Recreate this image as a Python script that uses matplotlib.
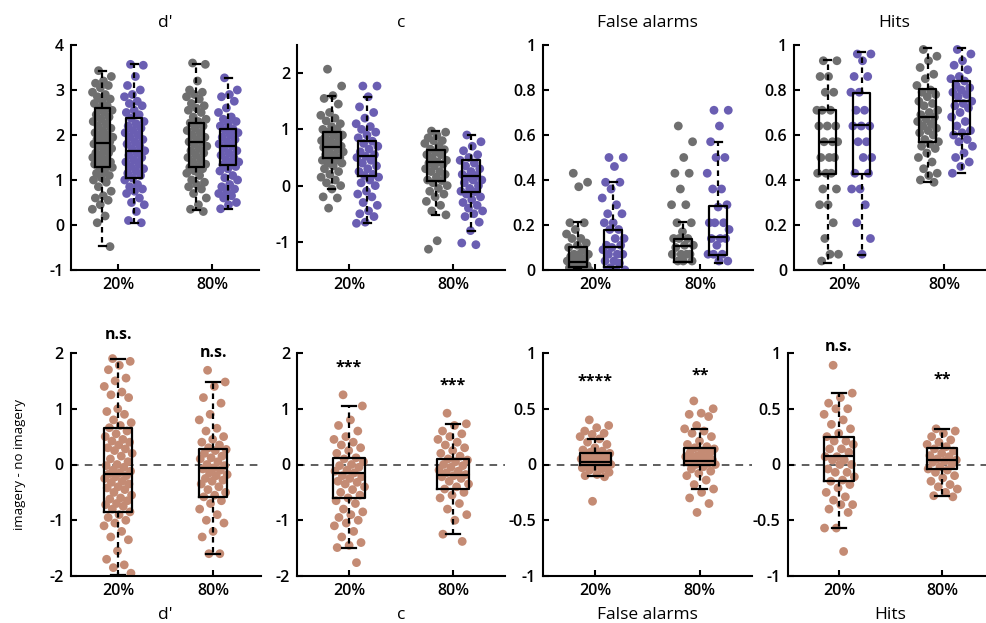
import matplotlib
matplotlib.use('Agg')
import matplotlib.pyplot as plt
from matplotlib.ticker import FuncFormatter

plt.rcParams['font.family'] = ['Open Sans', 'DejaVu Sans']
plt.rcParams['axes.unicode_minus'] = False

# ---- data ----
conditions = ['20%', '80%']
measures = ["d'", 'c', 'False alarms', 'Hits']

# top row: no imagery (grey) and imagery (purple), at 20% and 80%
dp_no_20 = [3.43, 3.3, 3.2, 3.15, 3.1, 3.05, 2.95, 2.9, 2.85, 2.8, 2.75, 2.7, 2.65, 2.6, 2.55,
            2.5, 2.45, 2.4, 2.35, 2.3, 2.25, 2.2, 2.15, 2.1, 2.05, 2.0, 2.0, 1.95, 1.9, 1.9,
            1.85, 1.82, 1.8, 1.75, 1.75, 1.7, 1.65, 1.6, 1.6, 1.55, 1.5, 1.45, 1.45, 1.4, 1.4,
            1.35, 1.3, 1.3, 1.28, 1.2, 1.15, 1.1, 1.05, 1.0, 0.95, 0.85, 0.75, 0.65, 0.6, 0.55,
            0.45, 0.35, 0.2, 0.05, -0.48]
dp_im_20 = [3.57, 3.55, 3.3, 3.1, 3.0, 2.9, 2.85, 2.75, 2.7, 2.65, 2.55, 2.5, 2.45, 2.37, 2.3,
            2.25, 2.2, 2.15, 2.1, 2.05, 2.0, 1.95, 1.9, 1.85, 1.8, 1.75, 1.7, 1.65, 1.6, 1.55,
            1.5, 1.45, 1.4, 1.35, 1.3, 1.25, 1.2, 1.15, 1.1, 1.04, 1.0, 0.9, 0.85, 0.8, 0.75,
            0.7, 0.6, 0.5, 0.45, 0.3, 0.1, 0.05]
dp_no_80 = [3.6, 3.57, 3.2, 3.0, 2.95, 2.9, 2.85, 2.8, 2.7, 2.65, 2.6, 2.55, 2.5, 2.4, 2.35, 2.3,
            2.27, 2.2, 2.15, 2.1, 2.05, 2.0, 1.95, 1.9, 1.85, 1.85, 1.8, 1.75, 1.7, 1.65, 1.6,
            1.55, 1.5, 1.45, 1.4, 1.35, 1.3, 1.28, 1.25, 1.2, 1.15, 1.1, 1.0, 0.95, 0.9, 0.85,
            0.8, 0.7, 0.6, 0.45, 0.35, 0.3]
dp_im_80 = [3.27, 3.0, 2.9, 2.85, 2.75, 2.6, 2.5, 2.4, 2.35, 2.3, 2.25, 2.2, 2.13, 2.1, 2.05,
            2.0, 1.95, 1.9, 1.85, 1.8, 1.76, 1.7, 1.65, 1.6, 1.55, 1.5, 1.45, 1.4, 1.38, 1.34,
            1.3, 1.25, 1.2, 1.1, 1.05, 1.0, 0.9, 0.85, 0.8, 0.75, 0.7, 0.65, 0.6, 0.5, 0.45,
            0.36]

c_no_20 = [2.07, 1.77, 1.6, 1.55, 1.45, 1.3, 1.25, 1.2, 1.15, 1.1, 1.05, 1.0, 1.0, 0.95, 0.9,
           0.9, 0.85, 0.85, 0.8, 0.8, 0.75, 0.75, 0.7, 0.7, 0.68, 0.65, 0.6, 0.6, 0.55, 0.55,
           0.5, 0.49, 0.45, 0.45, 0.4, 0.4, 0.35, 0.3, 0.25, 0.2, 0.15, 0.1, 0.05, 0.0, -0.06,
           -0.2, -0.22, -0.4]
c_im_20 = [1.77, 1.77, 1.58, 1.4, 1.3, 1.2, 1.1, 1.05, 1.0, 0.95, 0.9, 0.85, 0.79, 0.75, 0.7,
           0.65, 0.6, 0.55, 0.52, 0.5, 0.45, 0.4, 0.35, 0.3, 0.25, 0.2, 0.18, 0.15, 0.1, 0.05,
           0.0, -0.1, -0.15, -0.2, -0.3, -0.35, -0.45, -0.5, -0.55, -0.65, -0.67]
c_no_80 = [0.97, 0.95, 0.9, 0.85, 0.8, 0.8, 0.75, 0.7, 0.65, 0.64, 0.6, 0.55, 0.55, 0.5, 0.45,
           0.42, 0.4, 0.38, 0.35, 0.3, 0.25, 0.25, 0.2, 0.15, 0.1, 0.09, 0.05, 0.0, -0.05, -0.1,
           -0.15, -0.2, -0.28, -0.35, -0.45, -0.52, -0.98, -1.13]
c_im_80 = [0.9, 0.78, 0.7, 0.62, 0.55, 0.5, 0.45, 0.4, 0.35, 0.3, 0.25, 0.2, 0.18, 0.15, 0.1,
           0.1, 0.05, 0.0, -0.05, -0.1, -0.11, -0.15, -0.2, -0.25, -0.3, -0.35, -0.4, -0.45,
           -0.5, -0.55, -0.65, -0.8, -1.02, -1.05]

fa_no_20 = [0.43, 0.39, 0.37, 0.21, 0.21, 0.18, 0.16, 0.14, 0.14, 0.12, 0.11, 0.1, 0.09, 0.07,
            0.07, 0.07, 0.06, 0.05, 0.04, 0.04, 0.04, 0.03, 0.02, 0.02, 0.01, 0.01, 0.0, 0.0,
            0.0, 0.0]
fa_im_20 = [0.5, 0.5, 0.46, 0.39, 0.39, 0.36, 0.32, 0.29, 0.25, 0.25, 0.21, 0.21, 0.18, 0.18,
            0.14, 0.14, 0.11, 0.11, 0.1, 0.09, 0.07, 0.07, 0.07, 0.04, 0.04, 0.03, 0.01, 0.0,
            0.0, 0.0]
fa_no_80 = [0.64, 0.57, 0.5, 0.43, 0.43, 0.36, 0.29, 0.29, 0.21, 0.21, 0.17, 0.14, 0.14, 0.14,
            0.11, 0.11, 0.1, 0.07, 0.07, 0.07, 0.07, 0.04, 0.04, 0.04]
fa_im_80 = [0.71, 0.71, 0.64, 0.57, 0.5, 0.5, 0.43, 0.36, 0.36, 0.29, 0.28, 0.21, 0.21, 0.21,
            0.18, 0.14, 0.14, 0.14, 0.11, 0.07, 0.07, 0.07, 0.04, 0.04]

hit_no_20 = [0.93, 0.93, 0.86, 0.86, 0.79, 0.79, 0.71, 0.71, 0.71, 0.64, 0.64, 0.64, 0.57, 0.57,
             0.57, 0.5, 0.5, 0.5, 0.43, 0.43, 0.43, 0.36, 0.36, 0.29, 0.29, 0.21, 0.14, 0.07,
             0.07, 0.04]
hit_im_20 = [0.96, 0.96, 0.93, 0.86, 0.86, 0.79, 0.79, 0.71, 0.71, 0.64, 0.64, 0.64, 0.57, 0.57,
             0.5, 0.5, 0.43, 0.43, 0.36, 0.36, 0.29, 0.21, 0.14, 0.07]
hit_no_80 = [0.98, 0.95, 0.93, 0.9, 0.87, 0.85, 0.82, 0.8, 0.79, 0.78, 0.77, 0.75, 0.74, 0.73,
             0.71, 0.7, 0.69, 0.68, 0.67, 0.66, 0.65, 0.64, 0.63, 0.62, 0.61, 0.6, 0.58, 0.57,
             0.56, 0.55, 0.54, 0.52, 0.5, 0.48, 0.45, 0.43, 0.42, 0.4, 0.39]
hit_im_80 = [0.98, 0.96, 0.93, 0.91, 0.89, 0.86, 0.85, 0.84, 0.82, 0.81, 0.8, 0.79, 0.78, 0.77,
             0.75, 0.74, 0.73, 0.72, 0.7, 0.68, 0.66, 0.64, 0.62, 0.61, 0.6, 0.58, 0.57, 0.55,
             0.52, 0.5, 0.48, 0.46, 0.43]

# box stats [whisker low, q1, median, q3, whisker high]
dp_box_no = [[-0.47, 1.28, 1.82, 2.59, 3.43], [0.33, 1.28, 1.85, 2.27, 3.57]]
dp_box_im = [[0.05, 1.04, 1.65, 2.37, 3.57], [0.36, 1.34, 1.76, 2.13, 3.27]]
c_box_no = [[-0.06, 0.49, 0.68, 0.95, 1.59], [-0.52, 0.09, 0.42, 0.64, 0.97]]
c_box_im = [[-0.67, 0.18, 0.52, 0.79, 1.58], [-0.80, -0.11, 0.18, 0.45, 0.90]]
fa_box_no = [[0.003, 0.015, 0.037, 0.104, 0.213], [0.036, 0.036, 0.107, 0.139, 0.214]]
fa_box_im = [[0.0, 0.015, 0.104, 0.179, 0.39], [0.033, 0.067, 0.146, 0.284, 0.57]]
hit_box_no = [[0.03, 0.427, 0.57, 0.713, 0.933], [0.39, 0.57, 0.679, 0.806, 0.985]]
hit_box_im = [[0.067, 0.427, 0.645, 0.785, 0.97], [0.43, 0.604, 0.75, 0.84, 0.985]]

# bottom row: imagery - no imagery
diff_dp_20 = [1.9, 1.85, 1.78, 1.7, 1.55, 1.5, 1.4, 1.3, 1.25, 1.2, 1.0, 0.95, 0.9, 0.8, 0.75,
              0.7, 0.66, 0.6, 0.55, 0.5, 0.45, 0.42, 0.4, 0.35, 0.3, 0.28, 0.25, 0.2, 0.15, 0.1,
              0.05, 0.0, -0.02, -0.05, -0.1, -0.12, -0.15, -0.17, -0.2, -0.22, -0.25, -0.3,
              -0.32, -0.35, -0.4, -0.42, -0.45, -0.5, -0.55, -0.6, -0.62, -0.65, -0.7, -0.72,
              -0.75, -0.8, -0.85, -0.9, -0.95, -1.0, -1.05, -1.1, -1.2, -1.3, -1.35, -1.55,
              -1.7, -1.8, -1.85, -1.95]
diff_dp_80 = [1.69, 1.48, 1.4, 1.2, 1.1, 0.9, 0.8, 0.65, 0.6, 0.5, 0.45, 0.4, 0.35, 0.3, 0.27,
              0.25, 0.2, 0.15, 0.12, 0.1, 0.05, 0.0, -0.02, -0.06, -0.08, -0.1, -0.15, -0.18,
              -0.2, -0.25, -0.28, -0.3, -0.35, -0.4, -0.45, -0.5, -0.55, -0.58, -0.65, -0.7,
              -0.8, -0.9, -1.0, -1.05, -1.2, -1.3, -1.6, -1.6]
diff_c_20 = [1.25, 1.05, 0.8, 0.7, 0.6, 0.5, 0.45, 0.4, 0.35, 0.3, 0.25, 0.2, 0.12, 0.1, 0.05,
             0.0, -0.02, -0.05, -0.1, -0.12, -0.15, -0.2, -0.22, -0.25, -0.3, -0.32, -0.35,
             -0.4, -0.45, -0.5, -0.55, -0.6, -0.65, -0.7, -0.8, -0.85, -0.9, -0.95, -1.0, -1.05,
             -1.1, -1.2, -1.3, -1.4, -1.45, -1.49, -1.76]
diff_c_80 = [0.92, 0.73, 0.7, 0.6, 0.55, 0.5, 0.45, 0.4, 0.35, 0.3, 0.25, 0.2, 0.15, 0.1, 0.08,
             0.05, 0.0, -0.02, -0.05, -0.1, -0.12, -0.15, -0.18, -0.2, -0.22, -0.25, -0.3,
             -0.35, -0.4, -0.44, -0.5, -0.55, -0.6, -0.7, -0.8, -0.9, -1.0, -1.25, -1.38]
diff_fa_20 = [0.4, 0.35, 0.33, 0.3, 0.28, 0.27, 0.25, 0.23, 0.2, 0.18, 0.15, 0.13, 0.12, 0.11,
              0.1, 0.09, 0.08, 0.07, 0.06, 0.05, 0.04, 0.04, 0.03, 0.02, 0.02, 0.01, 0.01, 0.0,
              0.0, 0.0, -0.01, -0.02, -0.03, -0.04, -0.05, -0.07, -0.09, -0.1, -0.11, -0.33]
diff_fa_80 = [0.57, 0.5, 0.46, 0.45, 0.43, 0.35, 0.32, 0.3, 0.28, 0.25, 0.21, 0.18, 0.16, 0.15,
              0.14, 0.12, 0.11, 0.1, 0.08, 0.07, 0.06, 0.05, 0.04, 0.03, 0.02, 0.01, 0.0, 0.0,
              -0.02, -0.04, -0.06, -0.08, -0.1, -0.14, -0.18, -0.22, -0.25, -0.3, -0.35, -0.43]
diff_hit_20 = [0.89, 0.64, 0.6, 0.55, 0.5, 0.5, 0.45, 0.4, 0.36, 0.32, 0.28, 0.25, 0.21, 0.21,
               0.18, 0.14, 0.14, 0.11, 0.07, 0.07, 0.04, 0.04, 0.0, 0.0, -0.04, -0.07, -0.07,
               -0.11, -0.14, -0.15, -0.18, -0.21, -0.25, -0.29, -0.32, -0.36, -0.36, -0.4,
               -0.43, -0.57, -0.57, -0.78]
diff_hit_80 = [0.32, 0.3, 0.28, 0.25, 0.22, 0.2, 0.18, 0.16, 0.14, 0.12, 0.1, 0.08, 0.07, 0.05,
               0.04, 0.03, 0.02, 0.0, -0.02, -0.04, -0.05, -0.07, -0.1, -0.12, -0.15, -0.18,
               -0.2, -0.22, -0.25, -0.28, -0.29]

diff_box_dp = [[-1.98, -0.85, -0.17, 0.66, 1.9], [-1.6, -0.58, -0.06, 0.27, 1.48]]
diff_box_c = [[-1.49, -0.60, -0.15, 0.12, 1.05], [-1.25, -0.44, -0.18, 0.10, 0.73]]
diff_box_fa = [[-0.105, -0.006, 0.02, 0.105, 0.23], [-0.216, 0.0, 0.03, 0.144, 0.32]]
diff_box_hit = [[-0.57, -0.147, 0.075, 0.25, 0.64], [-0.285, -0.04, 0.036, 0.144, 0.32]]

# significance labels and their heights
sig_labels = [['n.s.', 'n.s.'], ['***', '***'], ['****', '**'], ['n.s.', '**']]
sig_heights = [[2.32, 2.0], [1.73, 1.42], [0.74, 0.8], [1.05, 0.76]]

GREY = '#6f6f6f'
PURPLE = '#6a5eb2'
TAN = '#c48b74'
FIG_W, FIG_H = 986, 623


def add_axes_px(fig, left, top, width, height):
    return fig.add_axes([left / FIG_W, 1 - (top + height) / FIG_H, width / FIG_W, height / FIG_H])


def jitter(n, spread):
    # deterministic spread of points across the strip
    return [((i * 0.618034 + 0.31) % 1.0 - 0.5) * 2 * spread for i in range(n)]


def draw_group(ax, pos, values, box, color, width, spread, capw):
    xs = [pos + j for j in jitter(len(values), spread)]
    ax.scatter(xs, values, s=40, color=color, edgecolors='none', zorder=1)
    stats = [{'whislo': box[0], 'q1': box[1], 'med': box[2], 'q3': box[3], 'whishi': box[4]}]
    ax.bxp(stats, positions=[pos], widths=width, showfliers=False, manage_ticks=False,
           capwidths=capw,
           boxprops=dict(color='k', lw=1.6),
           medianprops=dict(color='k', lw=1.6),
           whiskerprops=dict(color='k', lw=1.6, linestyle=(0, (2.5, 2))),
           capprops=dict(color='k', lw=1.6), zorder=3)


def style_axes(ax, ylim, yticks):
    ax.set_xlim(0.5, 2.5)
    ax.set_ylim(*ylim)
    ax.set_yticks(yticks)
    ax.yaxis.set_major_formatter(FuncFormatter(lambda v, p: f'{v:g}'))
    ax.set_xticks([1, 2])
    ax.set_xticklabels(conditions)
    for side in ['top', 'right']:
        ax.spines[side].set_visible(False)
    for side in ['left', 'bottom']:
        ax.spines[side].set_linewidth(1.5)
    ax.tick_params(direction='in', length=4, width=1.5, labelsize=11.5, pad=5)
    for lab in ax.get_xticklabels() + ax.get_yticklabels():
        lab.set_fontweight('semibold')
    ax.patch.set_alpha(0)


fig = plt.figure(figsize=(FIG_W / 100, FIG_H / 100), dpi=100)

top_boxes = [(71, 188), (297, 208), (542.5, 210), (794, 200)]
bottom_boxes = [(70.5, 190), (297, 208), (543, 209), (787.5, 206)]

top_no = [[dp_no_20, dp_no_80], [c_no_20, c_no_80], [fa_no_20, fa_no_80], [hit_no_20, hit_no_80]]
top_im = [[dp_im_20, dp_im_80], [c_im_20, c_im_80], [fa_im_20, fa_im_80], [hit_im_20, hit_im_80]]
top_box_no = [dp_box_no, c_box_no, fa_box_no, hit_box_no]
top_box_im = [dp_box_im, c_box_im, fa_box_im, hit_box_im]
top_ylims = [(-1, 4), (-1.5, 2.5), (0, 1), (0, 1)]
top_ticks = [[-1, 0, 1, 2, 3, 4], [-1, 0, 1, 2], [0, 0.2, 0.4, 0.6, 0.8, 1], [0, 0.2, 0.4, 0.6, 0.8, 1]]

diffs = [[diff_dp_20, diff_dp_80], [diff_c_20, diff_c_80], [diff_fa_20, diff_fa_80],
         [diff_hit_20, diff_hit_80]]
diff_boxes = [diff_box_dp, diff_box_c, diff_box_fa, diff_box_hit]
bottom_ylims = [(-2, 2), (-2, 2), (-1, 1), (-1, 1)]
bottom_ticks = [[-2, -1, 0, 1, 2], [-2, -1, 0, 1, 2], [-1, -0.5, 0, 0.5, 1], [-1, -0.5, 0, 0.5, 1]]

for k in range(4):
    # top row
    left, width = top_boxes[k]
    ax = add_axes_px(fig, left, 45, width, 225)
    for i in range(2):
        draw_group(ax, i + 1 - 0.165, top_no[k][i], top_box_no[k][i], GREY, 0.17, 0.11, 0.07)
        draw_group(ax, i + 1 + 0.175, top_im[k][i], top_box_im[k][i], PURPLE, 0.17, 0.11, 0.07)
    style_axes(ax, top_ylims[k], top_ticks[k])
    ax.set_title(measures[k], fontsize=12.5, pad=13, fontweight='medium')

    # bottom row
    left, width = bottom_boxes[k]
    ax = add_axes_px(fig, left, 353, width, 223)
    ax.axhline(0, color='#333333', lw=1.1, linestyle=(0, (5, 4)), zorder=0)
    for i in range(2):
        draw_group(ax, i + 1, diffs[k][i], diff_boxes[k][i], TAN, 0.3, 0.15, 0.14)
        ax.text(i + 1, sig_heights[k][i], sig_labels[k][i], ha='center', va='center',
                fontsize=11.5, fontweight='bold')
    style_axes(ax, bottom_ylims[k], bottom_ticks[k])
    ax.set_xlabel(measures[k], fontsize=12.5, labelpad=6, fontweight='medium')

fig.text(20 / FIG_W, 1 - 465 / FIG_H, 'imagery - no imagery', rotation=90,
         ha='center', va='center', fontsize=9.5)

fig.savefig('out.png', dpi=100)
